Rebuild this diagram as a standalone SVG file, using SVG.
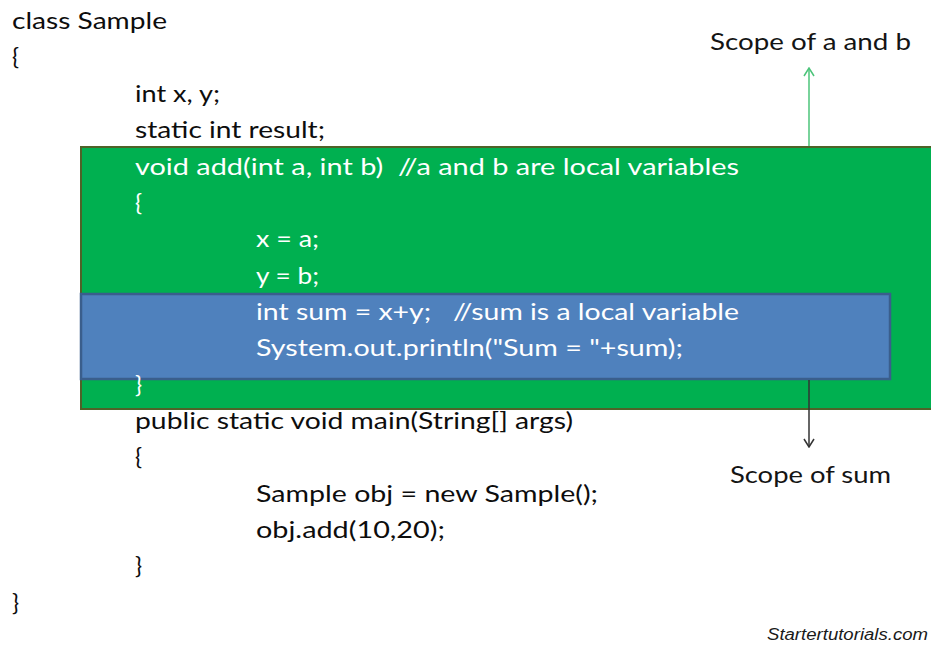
<svg xmlns="http://www.w3.org/2000/svg" width="931" height="646" viewBox="0 0 931 646">
  <defs>
    <style>
      .code { font-family: Lato, "Open Sans", "Liberation Sans", sans-serif; font-size: 23.5px; }
      .dark { fill: #0d0d0d; }
      .light { fill: #ffffff; }
      .note { font-family: Lato, "Open Sans", "Liberation Sans", sans-serif; font-size: 23.5px; fill: #141414; }
      .credit { font-family: "Liberation Sans", Arial, sans-serif; font-size: 16px; font-style: italic; fill: #1a1a1a; }
    </style>
    <!-- open chevron heads; path points along +x so orient="auto" follows the line -->
    <marker id="headGreen" viewBox="0 0 10 12" refX="9" refY="6" markerWidth="10" markerHeight="12" markerUnits="userSpaceOnUse" orient="auto">
      <path d="M1,1 L9,6 L1,11" fill="none" stroke="#4cc47a" stroke-width="1.5"/>
    </marker>
    <marker id="headDark" viewBox="0 0 10 12" refX="9" refY="6" markerWidth="10" markerHeight="12" markerUnits="userSpaceOnUse" orient="auto">
      <path d="M1,1 L9,6 L1,11" fill="none" stroke="#333333" stroke-width="1.5"/>
    </marker>
  </defs>

  <rect width="931" height="646" fill="#ffffff"/>

  <!-- scope of method parameters a and b -->
  <g id="scope-ab">
    <rect x="81" y="147" width="856" height="262" fill="#00b050" stroke="#4f6228" stroke-width="2"/>
  </g>

  <!-- scope of local variable sum -->
  <g id="scope-sum">
    <rect x="81" y="294" width="809" height="85" fill="#4f81bd" stroke="#3a5e8c" stroke-width="2.5"/>
  </g>

  <!-- arrows pointing at the labels -->
  <g id="connectors">
    <line x1="809" y1="146" x2="809" y2="68" stroke="#4cc47a" stroke-width="1.5" marker-end="url(#headGreen)"/>
    <line x1="809" y1="380" x2="809" y2="447" stroke="#333333" stroke-width="1.5" marker-end="url(#headDark)"/>
  </g>

  <!-- source code -->
  <g id="code">
    <text class="code dark" x="12" y="29" textLength="155" lengthAdjust="spacingAndGlyphs">class Sample</text>
    <text class="code dark" x="12" y="65">{</text>
    <text class="code dark" x="135" y="102" textLength="85" lengthAdjust="spacingAndGlyphs">int x, y;</text>
    <text class="code dark" x="135" y="138" textLength="190" lengthAdjust="spacingAndGlyphs">static int result;</text>
    <text class="code light" x="135" y="175" textLength="604" lengthAdjust="spacingAndGlyphs" xml:space="preserve">void add(int a, int b)  //a and b are local variables</text>
    <text class="code light" x="135" y="211">{</text>
    <text class="code light" x="256" y="247" textLength="63" lengthAdjust="spacingAndGlyphs">x = a;</text>
    <text class="code light" x="256" y="284" textLength="63" lengthAdjust="spacingAndGlyphs">y = b;</text>
    <text class="code light" x="256" y="320" textLength="483" lengthAdjust="spacingAndGlyphs" xml:space="preserve">int sum = x+y;   //sum is a local variable</text>
    <text class="code light" x="256" y="356" textLength="427" lengthAdjust="spacingAndGlyphs">System.out.println("Sum = "+sum);</text>
    <text class="code light" x="135" y="393">}</text>
    <text class="code dark" x="135" y="429" textLength="438" lengthAdjust="spacingAndGlyphs">public static void main(String[] args)</text>
    <text class="code dark" x="135" y="465">{</text>
    <text class="code dark" x="256" y="502" textLength="342" lengthAdjust="spacingAndGlyphs">Sample obj = new Sample();</text>
    <text class="code dark" x="256" y="538" textLength="189" lengthAdjust="spacingAndGlyphs">obj.add(10,20);</text>
    <text class="code dark" x="135" y="574">}</text>
    <text class="code dark" x="12" y="611">}</text>
  </g>

  <g id="label-ab">
    <text class="note" x="710" y="50" textLength="201" lengthAdjust="spacingAndGlyphs">Scope of a and b</text>
  </g>
  <g id="label-sum">
    <text class="note" x="730" y="483" textLength="161" lengthAdjust="spacingAndGlyphs">Scope of sum</text>
  </g>

  <text class="credit" x="767" y="640" textLength="161" lengthAdjust="spacingAndGlyphs">Startertutorials.com</text>
</svg>
